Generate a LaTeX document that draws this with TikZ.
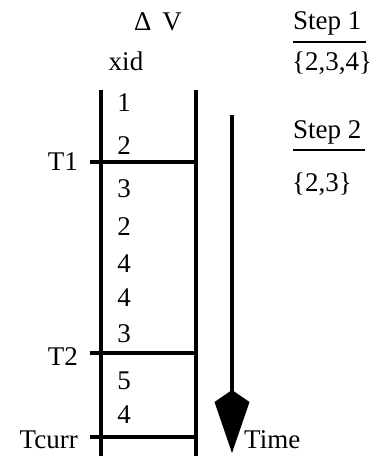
\documentclass[tikz,border=0pt]{standalone}
\usepackage{fontspec}
\setmainfont{Liberation Serif}
\begin{document}
\begin{tikzpicture}[x=1pt,y=-1pt,
  lbl/.style={inner sep=0pt,font=\fontsize{27}{30}\selectfont},
  num/.style={lbl,anchor=base},
  tlabel/.style={lbl,anchor=base east},
  side/.style={lbl,anchor=base west},
  wall/.style={line width=4pt},
  tickline/.style={line width=3.6pt},
  rule/.style={line width=1.8pt}]
\useasboundingbox (0,0) rectangle (377,456);

% column headings
\node[num] (dv) at (158,30) {Δ\hspace{0.4em}V};
\node[num] (xid) at (126,70) {xid};

% the two walls of the log
\coordinate (lt) at (101,90);  \coordinate (lb) at (101,456);
\coordinate (rt) at (196,90);  \coordinate (rb) at (196,456);
\draw[wall] (lt) -- (lb);
\draw[wall] (rt) -- (rb);

% time marks
\coordinate (t1a) at (90,162);  \coordinate (t1b) at (196,162);
\coordinate (t2a) at (90,353);  \coordinate (t2b) at (196,353);
\coordinate (tca) at (90,437);  \coordinate (tcb) at (196,437);
\draw[tickline] (t1a) -- (t1b);
\draw[tickline] (t2a) -- (t2b);
\draw[tickline] (tca) -- (tcb);
\node[tlabel] (lt1) at (78,170) {T1};
\node[tlabel] (lt2) at (78,365) {T2};
\node[tlabel] (ltc) at (78,448) {Tcurr};

% transaction ids
\node[num] (n1) at (124,111) {1};
\node[num] (n2) at (124,154) {2};
\node[num] (n3) at (124,197) {3};
\node[num] (n4) at (124,235) {2};
\node[num] (n5) at (124,272) {4};
\node[num] (n6) at (124,306) {4};
\node[num] (n7) at (124,342) {3};
\node[num] (n8) at (124,389) {5};
\node[num] (n9) at (124,423) {4};

% time arrow
\coordinate (ttop) at (232,115);
\coordinate (thead) at (232,392);
\coordinate (ttip) at (232,453);
\draw[line width=3.6pt] (ttop) -- (thead);
\fill (ttip) -- ++(-17.5,-51) -- ++(17.5,-12) -- ++(17.5,12) -- cycle;
\node[side] (time) at (244,448) {Time};

% steps
\node[side] (s1) at (293,29) {Step 1};
\draw[rule] (293,42) -- (366,42);
\node[side] (s1set) at (292,70) {\{2,3,4\}};
\node[side] (s2) at (293,138) {Step 2};
\draw[rule] (293,150) -- (365,150);
\node[side] (s2set) at (292,191) {\{2,3\}};
\end{tikzpicture}
\end{document}
